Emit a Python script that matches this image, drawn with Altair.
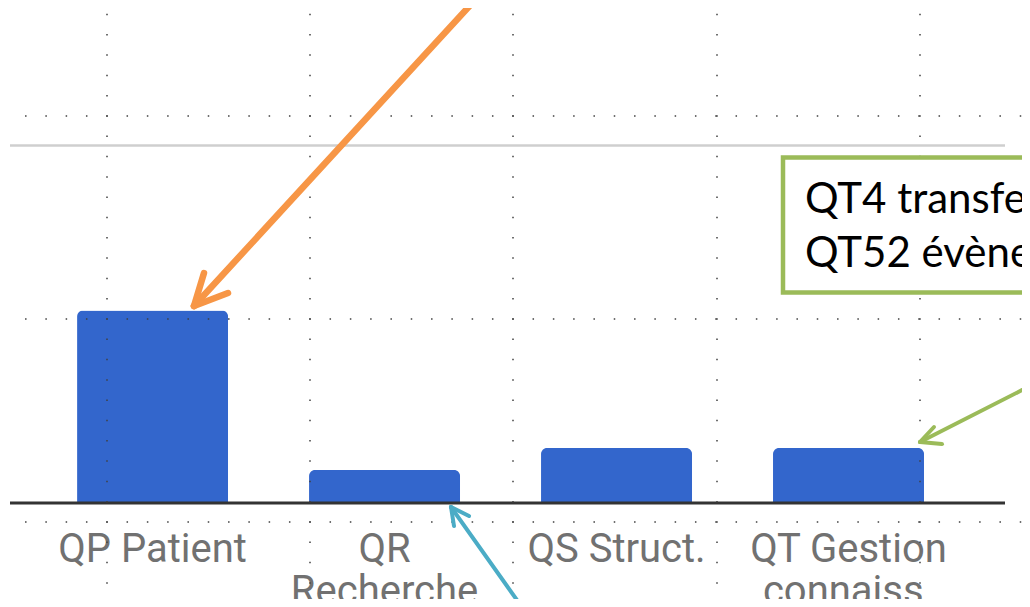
import altair as alt
import pandas as pd

# ---- data ----
categories = ["QP Patient", "QR|Recherche", "QS Struct.", "QT Gestion|connaiss."]
values = [35, 6, 10, 10]
ref_value = 65
y_max = 90
box_lines = ["QT4 transfert", "QT52 évènement"]

df = pd.DataFrame({"cat": categories, "val": values})
one = pd.DataFrame({"a": [0]})

W, H = 995, 495

xscale = alt.Scale(paddingInner=0.349, paddingOuter=0.319, align=0.453)
yscale = alt.Scale(domain=[0, y_max], nice=False, zero=True)

bars = alt.Chart(df).mark_bar(
    color="#3366cc", cornerRadiusTopLeft=6, cornerRadiusTopRight=6
).encode(
    x=alt.X(
        "cat:N", sort=categories, scale=xscale, title=None,
        axis=alt.Axis(
            labelExpr="split(datum.label, '|')",
            labelFont="Roboto", labelFontSize=40, labelColor="#717171",
            labelLineHeight=42, labelPadding=26, labelAngle=0,
            domain=False, ticks=False, grid=False, labelLimit=400,
        ),
    ),
    y=alt.Y("val:Q", scale=yscale, axis=None),
)

ref_rule = alt.Chart(one).mark_rule(color="#cfcfcf", strokeWidth=2.5).encode(
    y=alt.Y(datum=ref_value, scale=yscale)
)
base_rule = alt.Chart(one).mark_rule(color="#333333", strokeWidth=3).encode(
    y=alt.Y(datum=0, scale=yscale)
)

layers = [bars, ref_rule, base_rule]

# dotted slide grid
dash = [1.5, 18.8]
for gx in [97, 300, 503, 707, 910]:
    layers.append(
        alt.Chart(one).mark_rule(color="#404040", strokeWidth=1.5, strokeDash=dash, clip=False).encode(
            x=alt.value(gx), x2=alt.value(gx), y=alt.value(5.75), y2=alt.value(610)
        )
    )
for gy in [108, 311, 514]:
    layers.append(
        alt.Chart(one).mark_rule(color="#404040", strokeWidth=1.5, strokeDash=dash, clip=False).encode(
            x=alt.value(15.05), x2=alt.value(1040), y=alt.value(gy), y2=alt.value(gy)
        )
    )

# green annotation box
layers.append(
    alt.Chart(one).mark_rect(fill="white", stroke="#9bbb59", strokeWidth=4.5, clip=False).encode(
        x=alt.value(773), x2=alt.value(1060), y=alt.value(149.5), y2=alt.value(284.5)
    )
)
layers.append(
    alt.Chart(one).mark_text(
        text=box_lines, align="left", baseline="alphabetic", font="Lato",
        fontSize=42, lineHeight=54, color="#000000"
    ).encode(x=alt.value(795), y=alt.value(205))
)


def seg(x1, y1, x2, y2, color, w):
    return alt.Chart(one).mark_rule(color=color, strokeWidth=w, strokeCap="round").encode(
        x=alt.value(x1), y=alt.value(y1), x2=alt.value(x2), y2=alt.value(y2)
    )


# orange arrow
orange = "#f79646"
layers += [
    seg(465, -8, 184, 298, orange, 6.5),
    seg(184, 298, 194, 265, orange, 6.5),
    seg(184, 298, 218, 285, orange, 6.5),
]
# blue arrow
blue = "#4bacc6"
layers += [
    seg(514, 602, 441, 499, blue, 4),
    seg(441, 499, 444, 518, blue, 4),
    seg(441, 499, 459, 508, blue, 4),
]
# green arrow
green = "#9bbb59"
layers += [
    seg(1022, 377, 910, 434, green, 4),
    seg(910, 434, 924, 419, green, 4),
    seg(910, 434, 932, 436, green, 4),
]

chart = alt.layer(*layers).properties(
    width=W, height=H,
    autosize=alt.AutoSizeParams(type="none"),
    padding={"left": 2, "top": 0, "right": 17, "bottom": 96},
    background="white",
).configure_view(stroke=None)

chart.save("out.html", embed_options={"renderer": "svg", "actions": False})
